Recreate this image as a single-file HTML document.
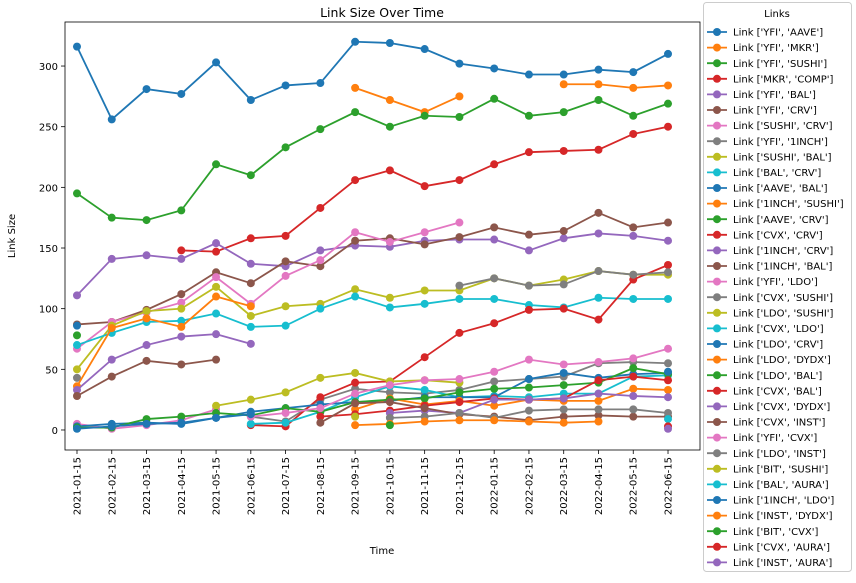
<!DOCTYPE html>
<html><head><meta charset="utf-8"><style>
body{margin:0;background:#fff;font-family:"Liberation Sans","DejaVu Sans",sans-serif;}
svg text{font-family:"DejaVu Sans","Liberation Sans",sans-serif;}
</style></head><body>
<svg id="chart" width="856" height="578" viewBox="0 0 856 578"></svg>
<script>
const categories=["2021-01-15","2021-02-15","2021-03-15","2021-04-15","2021-05-15","2021-06-15","2021-07-15","2021-08-15","2021-09-15","2021-10-15","2021-11-15","2021-12-15","2022-01-15","2022-02-15","2022-03-15","2022-04-15","2022-05-15","2022-06-15"];
const seriesNames=["Link ['YFI', 'AAVE']","Link ['YFI', 'MKR']","Link ['YFI', 'SUSHI']","Link ['MKR', 'COMP']","Link ['YFI', 'BAL']","Link ['YFI', 'CRV']","Link ['SUSHI', 'CRV']","Link ['YFI', '1INCH']","Link ['SUSHI', 'BAL']","Link ['BAL', 'CRV']","Link ['AAVE', 'BAL']","Link ['1INCH', 'SUSHI']","Link ['AAVE', 'CRV']","Link ['CVX', 'CRV']","Link ['1INCH', 'CRV']","Link ['1INCH', 'BAL']","Link ['YFI', 'LDO']","Link ['CVX', 'SUSHI']","Link ['LDO', 'SUSHI']","Link ['CVX', 'LDO']","Link ['LDO', 'CRV']","Link ['LDO', 'DYDX']","Link ['LDO', 'BAL']","Link ['CVX', 'BAL']","Link ['CVX', 'DYDX']","Link ['CVX', 'INST']","Link ['YFI', 'CVX']","Link ['LDO', 'INST']","Link ['BIT', 'SUSHI']","Link ['BAL', 'AURA']","Link ['1INCH', 'LDO']","Link ['INST', 'DYDX']","Link ['BIT', 'CVX']","Link ['CVX', 'AURA']","Link ['INST', 'AURA']"];
const n=null;
const s0=[316,256,281,277,303,272,284,286,320,319,314,302,298,293,293,297,295,310];
const s1=[n,n,n,n,n,n,n,n,282,272,262,275,n,n,285,285,282,284];
const s2=[195,175,173,181,219,210,233,248,262,250,259,258,273,259,262,272,259,269];
const s3=[n,n,n,148,147,158,160,183,206,214,201,206,219,229,230,231,244,250];
const s4=[111,141,144,141,154,137,135,148,152,151,156,157,157,148,158,162,160,156];
const s5=[28,44,57,54,58,n,n,n,n,n,n,n,n,n,n,n,n,n];
const s5b=[87,89,99,112,130,121,139,135,156,158,153,159,167,161,164,179,167,171];
const s6=[67,89,97,105,126,104,127,140,163,155,163,171,n,n,n,n,n,n];
const s7=[43,n,n,n,n,11,7,25,34,31,30,33,40,42,44,55,56,55];
const s8=[50,86,98,100,118,94,102,104,116,109,115,115,125,119,124,131,128,128];
const s9=[70,80,89,90,96,85,86,100,110,101,104,108,108,103,101,109,108,108];
const s10=[86,n,n,n,n,n,n,n,n,n,n,n,n,n,n,n,n,n];
const s11=[36,84,92,85,110,102,n,n,n,n,n,n,n,n,n,n,n,n];
const s12=[78,n,n,n,n,n,n,n,n,n,n,n,n,n,n,n,n,n];
const s13=[n,n,n,n,n,4,3,27,39,40,60,80,88,99,100,91,124,136];
const s14=[33,58,70,77,79,71,n,n,n,n,n,n,n,n,n,n,n,n];
const s16=[5,1,4,8,17,n,n,n,n,n,n,n,n,n,n,n,n,n];
const s17=[n,n,n,n,n,n,n,n,n,n,n,119,125,119,120,131,128,130];
const s18=[n,n,n,n,20,25,31,43,47,40,41,39,n,n,n,n,n,n];
const s19=[n,n,n,n,n,5,6,15,27,36,33,27,28,27,30,30,44,45];
const s20=[3,5,6,5,10,15,18,21,23,24,27,27,27,42,47,43,46,47];
const s21=[n,n,n,n,n,n,n,n,17,26,21,24,20,25,24,24,34,33];
const s22=[2,2,9,11,14,12,18,15,23,25,26,31,34,35,37,39,51,46];
const s23=[n,n,n,n,n,n,n,11,13,16,20,23,26,25,26,41,44,41];
const s24=[n,n,n,n,n,n,n,n,n,14,16,14,25,25,26,30,28,27];
const s25=[n,n,n,n,n,n,n,6,22,23,18,13,11,8,11,12,11,11];
const s26=[n,n,n,n,n,11,14,18,30,37,41,42,48,58,54,56,59,67];
const s27=[n,n,n,n,n,n,n,n,n,10,11,14,10,16,17,17,17,14];
const s28=[n,n,n,n,n,n,n,n,11,n,n,n,n,n,n,n,n,n];
const s29=[n,n,n,n,n,n,n,n,n,n,n,n,n,n,n,n,n,9];
const s30=[1,3,5,6,10,13,n,n,n,n,n,n,n,n,n,n,n,48];
const s31=[n,n,n,n,n,n,n,n,4,5,7,8,8,7,6,7,n,n];
const s32=[n,n,n,n,n,n,n,n,n,4,n,n,n,n,n,n,n,n];
const s33=[n,n,n,n,n,n,n,n,n,n,n,n,n,n,n,n,n,3];
const s34=[n,n,n,n,n,n,n,n,n,n,n,n,n,n,n,n,n,1];
const seriesValues=[s0,s1,s2,s3,s4,s5b,s6,s7,s8,s9,s10,s11,s12,s13,s14,s5,s16,s17,s18,s19,s20,s21,s22,s23,s24,s25,s26,s27,s28,s29,s30,s31,s32,s33,s34];
const yTicks=[0,50,100,150,200,250,300];

const palette=["#1f77b4","#ff7f0e","#2ca02c","#d62728","#9467bd","#8c564b","#e377c2","#7f7f7f","#bcbd22","#17becf"];
const svg=document.getElementById('chart');
const NS="http://www.w3.org/2000/svg";
const L=65,R=700,T=22,B=450;
const xMin=-0.345,xMax=17.92,yMin=-16.5,yMax=336.3;
const xs=i=>L+(i-xMin)/(xMax-xMin)*(R-L);
const ys=v=>B-(v-yMin)/(yMax-yMin)*(B-T);
function mk(tag,attrs,parent){const e=document.createElementNS(NS,tag);for(const k in attrs)e.setAttribute(k,attrs[k]);(parent||svg).appendChild(e);return e;}

const t=mk('text',{x:382,y:17,'text-anchor':'middle','font-size':12.5,fill:'#000'});t.textContent='Link Size Over Time';



yTicks.forEach(v=>{
  const y=ys(v);
  const ln=mk('line',{x1:L-4,x2:L,y1:y,y2:y,stroke:'#000','stroke-width':0.8});
  
  
  const tx=mk('text',{x:L-7,y:y+4,'text-anchor':'end','font-size':10,fill:'#000'});tx.textContent=v;
  
  
});
categories.forEach((c,i)=>{
  const x=xs(i);
  const ln=mk('line',{x1:x,x2:x,y1:B,y2:B+4,stroke:'#000','stroke-width':0.8});
  
  
  const tx=mk('text',{x:0,y:0,'text-anchor':'end','font-size':10,fill:'#000',transform:`translate(${x+3.5},${B+7}) rotate(-90)`});tx.textContent=c;
  
  
});
const xl=mk('text',{x:382,y:554,'text-anchor':'middle','font-size':10,fill:'#000'});xl.textContent='Time';


const yl=mk('text',{x:0,y:0,'text-anchor':'middle','font-size':10,fill:'#000',transform:`translate(15,${(T+B)/2}) rotate(-90)`});yl.textContent='Link Size';



seriesValues.forEach((vals,si)=>{
  const col=palette[si%10];
  const g=mk('g',{});
  
  
  let segs=[],cur=[];
  vals.forEach((v,i)=>{if(v===null){if(cur.length)segs.push(cur);cur=[];}else cur.push([xs(i),ys(v)]);});
  if(cur.length)segs.push(cur);
  segs.forEach(sg=>{if(sg.length>1){const p=mk('polyline',{points:sg.map(q=>q.join(',')).join(' '),fill:'none',stroke:col,'stroke-width':1.8},g);
    
    }});
  vals.forEach((v,i)=>{if(v!==null){const c=mk('circle',{cx:xs(i),cy:ys(v),r:4,fill:col},g);
    
    }});
});
const frame=mk('rect',{x:L,y:T,width:R-L,height:B-T,fill:'none',stroke:'#000','stroke-width':0.8});



const lg=mk('g',{});


const lb=mk('rect',{x:703.5,y:2.5,width:148,height:569,fill:'#fff',stroke:'#ccc','stroke-width':1,rx:3},lg);


const lt=mk('text',{x:777,y:17,'text-anchor':'middle','font-size':10,fill:'#000'},lg);lt.textContent='Links';


seriesNames.forEach((nm,i)=>{
  const y=32+i*15.6,col=palette[i%10];
  const e=mk('g',{},lg);
  
  
  mk('line',{x1:707,x2:727,y1:y,y2:y,stroke:col,'stroke-width':1.8},e);
  mk('circle',{cx:717,cy:y,r:4,fill:col},e);
  const tx=mk('text',{x:733,y:y+3.6,'font-size':10,fill:'#000'},e);tx.textContent=nm;
});
</script>
</body></html>
